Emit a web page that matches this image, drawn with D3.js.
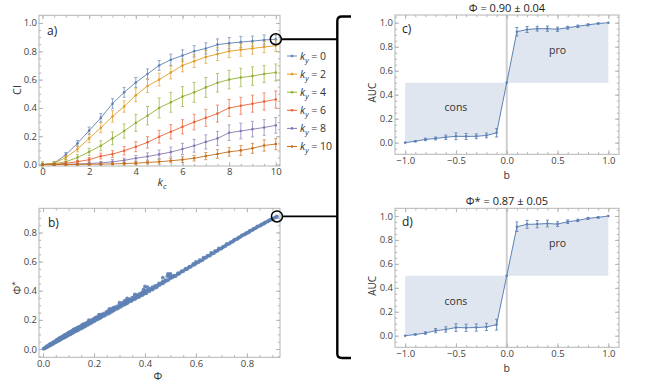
<!DOCTYPE html>
<html><head><meta charset="utf-8">
<script src="https://cdn.jsdelivr.net/npm/d3@7"></script>
<style>body{margin:0;background:#fff}svg{display:block;font-family:'Open Sans',sans-serif}</style>
</head><body><svg id="c" width="652" height="383"></svg>
<script>
// ---------- data: panel a ----------
const kc = [0,0.5,1,1.5,2,2.5,3,3.5,4,4.5,5,5.5,6,6.5,7,7.5,8,8.5,9,9.5,10];
const kyLabels = ["0","2","4","6","8","10"];
const ciKy0  = [0,0.01,0.07,0.15,0.24,0.33,0.43,0.51,0.58,0.64,0.70,0.74,0.77,0.80,0.82,0.847,0.857,0.865,0.872,0.88,0.885];
const ciKy2  = [0,0.01,0.05,0.11,0.185,0.26,0.34,0.41,0.49,0.555,0.60,0.65,0.70,0.73,0.76,0.78,0.80,0.81,0.82,0.83,0.84];
const ciKy4  = [0,0.005,0.02,0.05,0.09,0.133,0.185,0.237,0.295,0.345,0.40,0.44,0.48,0.51,0.545,0.578,0.60,0.615,0.625,0.64,0.65];
const ciKy6  = [0,0,0.01,0.02,0.035,0.06,0.074,0.098,0.126,0.157,0.197,0.232,0.267,0.30,0.33,0.36,0.40,0.415,0.43,0.445,0.46];
const ciKy8  = [0,0,0.002,0.004,0.008,0.012,0.02,0.03,0.045,0.057,0.072,0.088,0.11,0.133,0.16,0.185,0.225,0.237,0.25,0.262,0.277];
const ciKy10 = [0,0,0,0.001,0.002,0.003,0.005,0.007,0.01,0.015,0.02,0.027,0.035,0.045,0.06,0.075,0.09,0.10,0.115,0.135,0.145];
const errKy0  = [0.005,0.01,0.015,0.02,0.025,0.03,0.035,0.035,0.035,0.035,0.035,0.04,0.04,0.04,0.04,0.04,0.04,0.04,0.035,0.035,0.03];
const errKy2  = [0.005,0.01,0.015,0.02,0.03,0.035,0.04,0.04,0.045,0.045,0.045,0.045,0.045,0.045,0.045,0.045,0.045,0.045,0.04,0.04,0.04];
const errKy4  = [0.02,0.01,0.015,0.02,0.025,0.035,0.045,0.05,0.06,0.065,0.07,0.07,0.07,0.07,0.07,0.065,0.065,0.065,0.065,0.06,0.06];
const errKy6  = [0.005,0.005,0.01,0.01,0.015,0.02,0.025,0.03,0.035,0.04,0.045,0.05,0.05,0.055,0.06,0.06,0.06,0.06,0.06,0.06,0.06];
const errKy8  = [0.005,0.005,0.005,0.005,0.01,0.01,0.015,0.015,0.02,0.025,0.03,0.035,0.04,0.045,0.05,0.05,0.055,0.055,0.055,0.055,0.055];
const errKy10 = [0.005,0.005,0.005,0.005,0.005,0.005,0.005,0.01,0.01,0.01,0.015,0.015,0.02,0.02,0.025,0.03,0.03,0.035,0.035,0.04,0.04];

// ---------- data: panel b ----------
const phi = [0.002,0.005,0.008,0.010,0.012,0.015,0.018,0.020,0.022,0.025,0.028,0.030,0.033,0.035,0.038,0.040,0.043,0.045,0.048,0.050,0.053,0.055,0.058,0.060,0.063,0.065,0.068,0.070,0.073,0.075,0.078,0.080,0.083,0.085,0.088,0.090,0.093,0.095,0.098,0.100,0.105,0.108,0.110,0.115,0.118,0.120,0.125,0.128,0.130,0.135,0.138,0.140,0.145,0.150,0.152,0.155,0.160,0.163,0.168,0.170,0.175,0.180,0.185,0.188,0.192,0.195,0.200,0.205,0.210,0.215,0.220,0.222,0.228,0.232,0.235,0.240,0.245,0.250,0.255,0.260,0.262,0.268,0.272,0.275,0.280,0.285,0.290,0.295,0.300,0.305,0.310,0.315,0.318,0.322,0.328,0.330,0.335,0.340,0.345,0.350,0.355,0.360,0.365,0.370,0.375,0.380,0.385,0.390,0.395,0.400,0.400,0.405,0.410,0.418,0.425,0.430,0.438,0.445,0.450,0.458,0.465,0.470,0.478,0.485,0.490,0.492,0.500,0.508,0.515,0.520,0.528,0.535,0.542,0.550,0.558,0.565,0.572,0.580,0.588,0.595,0.602,0.610,0.618,0.625,0.632,0.640,0.648,0.655,0.662,0.670,0.678,0.685,0.692,0.700,0.708,0.715,0.722,0.730,0.738,0.745,0.752,0.760,0.768,0.775,0.782,0.790,0.798,0.805,0.812,0.820,0.828,0.835,0.842,0.850,0.858,0.865,0.872,0.880,0.888,0.895,0.902,0.910,0.918];
const phiStar = [0.002,0.004,0.008,0.011,0.010,0.016,0.016,0.020,0.024,0.023,0.028,0.031,0.030,0.036,0.035,0.043,0.041,0.048,0.045,0.052,0.050,0.060,0.055,0.063,0.060,0.070,0.064,0.068,0.072,0.078,0.074,0.082,0.079,0.088,0.083,0.094,0.088,0.092,0.100,0.096,0.110,0.101,0.106,0.118,0.111,0.116,0.130,0.121,0.125,0.128,0.140,0.133,0.139,0.150,0.143,0.148,0.158,0.153,0.160,0.172,0.166,0.171,0.185,0.178,0.183,0.200,0.190,0.196,0.210,0.204,0.228,0.211,0.218,0.225,0.236,0.228,0.234,0.248,0.242,0.262,0.249,0.256,0.266,0.262,0.268,0.280,0.276,0.282,0.296,0.290,0.300,0.318,0.303,0.308,0.320,0.314,0.322,0.333,0.328,0.336,0.346,0.342,0.350,0.365,0.356,0.364,0.372,0.370,0.378,0.430,0.385,0.382,0.396,0.398,0.410,0.408,0.420,0.424,0.436,0.440,0.452,0.450,0.462,0.470,0.515,0.474,0.486,0.492,0.503,0.500,0.514,0.518,0.530,0.534,0.546,0.548,0.560,0.565,0.576,0.580,0.590,0.596,0.606,0.610,0.622,0.628,0.640,0.642,0.654,0.658,0.670,0.675,0.686,0.690,0.702,0.706,0.718,0.722,0.734,0.738,0.750,0.754,0.766,0.770,0.782,0.786,0.797,0.800,0.812,0.816,0.826,0.830,0.842,0.845,0.856,0.860,0.870,0.874,0.884,0.888,0.897,0.902,0.910];
const phi2 = [0.03,0.04,0.05,0.055,0.06,0.07,0.075,0.08,0.09,0.095,0.1,0.105,0.11,0.115,0.12,0.125,0.13,0.135,0.14,0.145,0.15,0.155,0.16,0.165,0.17,0.175,0.18,0.19,0.2,0.205,0.21,0.22,0.225,0.23,0.24,0.25,0.26,0.27,0.275,0.28,0.29,0.3,0.31,0.32,0.325,0.33,0.34,0.35,0.36,0.37,0.38,0.39,0.395,0.4,0.41,0.42,0.43,0.44,0.455,0.47,0.48,0.488,0.495,0.5,0.51,0.53,0.545,0.56,0.575,0.59,0.6,0.615,0.63,0.645,0.66,0.675,0.69,0.705,0.72,0.735,0.75,0.765,0.78,0.795,0.81,0.825,0.84,0.855,0.87,0.885,0.9,0.915,0.395,0.41,0.36,0.3,0.22,0.12,0.18,0.26,0.33,0.47,0.5,0.065,0.085,0.015,0.025];
const phiStar2 = [0.036,0.047,0.058,0.065,0.07,0.079,0.085,0.09,0.1,0.106,0.112,0.117,0.12,0.126,0.131,0.136,0.141,0.146,0.15,0.154,0.16,0.168,0.17,0.174,0.178,0.183,0.19,0.198,0.208,0.213,0.218,0.226,0.234,0.238,0.245,0.256,0.265,0.275,0.282,0.286,0.292,0.305,0.314,0.33,0.328,0.335,0.342,0.352,0.363,0.372,0.38,0.39,0.395,0.4,0.405,0.415,0.425,0.433,0.45,0.462,0.472,0.5,0.505,0.496,0.5,0.52,0.535,0.552,0.565,0.584,0.598,0.61,0.628,0.64,0.66,0.672,0.69,0.7,0.72,0.73,0.748,0.76,0.778,0.79,0.805,0.822,0.838,0.85,0.865,0.88,0.893,0.906,0.41,0.425,0.375,0.318,0.235,0.135,0.198,0.275,0.348,0.49,0.515,0.076,0.097,0.02,0.031];

// ---------- data: panels c, d ----------
const bVals = [-1,-0.9,-0.8,-0.7,-0.6,-0.5,-0.4,-0.3,-0.2,-0.1,0,0.1,0.2,0.3,0.4,0.5,0.6,0.7,0.8,0.9,1];
const aucC = [0,0.012,0.027,0.035,0.045,0.053,0.052,0.053,0.06,0.082,0.5,0.925,0.943,0.95,0.95,0.945,0.958,0.97,0.982,0.993,1.0];
const errC = [0,0.005,0.01,0.012,0.018,0.028,0.025,0.02,0.02,0.035,0,0.035,0.025,0.02,0.022,0.018,0.012,0.01,0.008,0.005,0];
const aucD = [0,0.01,0.022,0.042,0.052,0.068,0.066,0.068,0.073,0.092,0.5,0.91,0.93,0.932,0.937,0.932,0.952,0.963,0.98,0.988,1.0];
const errD = [0,0.005,0.01,0.018,0.022,0.032,0.03,0.03,0.03,0.045,0,0.04,0.033,0.03,0.028,0.02,0.015,0.01,0.008,0.005,0];
const titleC = "Φ = 0.90 ± 0.04";
const titleD = "Φ* = 0.87 ± 0.05";

// ---------- drawing ----------
const svg = d3.select("#c");
const colors = ["#5E81B5","#E19C24","#8FB032","#EB6235","#8778B3","#C56E1A"];
const FR = "#b4b4b4";

function frame(g, x, y, xMaj, xMin, yMaj, yMin, xf, yf) {
  const [x0, x1] = x.range(), [y0, y1] = y.range();
  const add = (axis, tr) => {
    const a = g.append("g").attr("transform", tr).call(axis);
    a.select(".domain").remove();
    a.selectAll("line").attr("stroke", FR);
    a.selectAll("text").attr("fill", "#444").style("font-size", "9.5px").style("font-family","'Open Sans',sans-serif");
  };
  add(d3.axisBottom(x).tickValues(xMin).tickSize(-2.2).tickFormat(""), `translate(0,${y0})`);
  add(d3.axisBottom(x).tickValues(xMaj).tickSize(-4).tickPadding(2.5).tickFormat(xf), `translate(0,${y0})`);
  add(d3.axisTop(x).tickValues(xMin).tickSize(-2.2).tickFormat(""), `translate(0,${y1})`);
  add(d3.axisTop(x).tickValues(xMaj).tickSize(-4).tickFormat(""), `translate(0,${y1})`);
  add(d3.axisLeft(y).tickValues(yMin).tickSize(-2.2).tickFormat(""), `translate(${x0},0)`);
  add(d3.axisLeft(y).tickValues(yMaj).tickSize(-4).tickPadding(2).tickFormat(yf), `translate(${x0},0)`);
  add(d3.axisRight(y).tickValues(yMin).tickSize(-2.2).tickFormat(""), `translate(${x1},0)`);
  add(d3.axisRight(y).tickValues(yMaj).tickSize(-4).tickFormat(""), `translate(${x1},0)`);
  g.append("rect").attr("x", x0).attr("y", y1).attr("width", x1 - x0).attr("height", y0 - y1)
    .attr("fill", "none").attr("stroke", FR).attr("stroke-width", 1);
}
const rng = (a, b, s) => d3.range(Math.round((b - a) / s) + 1).map(i => +(a + i * s).toFixed(4));
const f1 = d3.format(".1f"), f0 = d3.format("d");

function errorBars(g, xs, ys, x, y, e, color, op) {
  const eb = g.append("g").attr("stroke", color).attr("stroke-width", 1).attr("opacity", op);
  xs.forEach((xv, i) => {
    if (e[i] <= 0) return;
    const px = x(xv), top = y(ys[i] + e[i]), bot = y(ys[i] - e[i]);
    eb.append("line").attr("x1", px).attr("x2", px).attr("y1", top).attr("y2", bot);
    eb.append("line").attr("x1", px - 1.5).attr("x2", px + 1.5).attr("y1", top).attr("y2", top);
    eb.append("line").attr("x1", px - 1.5).attr("x2", px + 1.5).attr("y1", bot).attr("y2", bot);
  });
}

// ----- Panel a -----
{
  const g = svg.append("g");
  const x = d3.scaleLinear().domain([-0.15, 10.18]).range([39, 280]);
  const y = d3.scaleLinear().domain([-0.01, 1.054]).range([166, 15.3]);
  frame(g, x, y, rng(0, 10, 2), rng(0, 10, 0.5), rng(0, 1, 0.2), rng(0, 1, 0.05), f0, f1);
  const series = [ciKy0, ciKy2, ciKy4, ciKy6, ciKy8, ciKy10];
  const errs = [errKy0, errKy2, errKy4, errKy6, errKy8, errKy10];
  const line = d3.line().x((d, i) => x(kc[i])).y(d => y(d));
  series.forEach((s, k) => {
    errorBars(g, kc, s, x, y, errs[k], colors[k], 0.7);
    g.append("path").attr("d", line(s)).attr("fill", "none").attr("stroke", colors[k]).attr("stroke-width", 1).attr("opacity", 0.9);
    g.append("g").selectAll("circle").data(s).join("circle")
      .attr("cx", (d, i) => x(kc[i])).attr("cy", d => y(d)).attr("r", 1.3).attr("fill", colors[k]);
  });
  g.append("text").attr("x", 47).attr("y", 35).text("a)").style("font-size", "12px").attr("fill", "#222");
  const xl = g.append("text").attr("x", 162).attr("y", 186).attr("text-anchor", "middle").style("font-size", "11px").attr("fill", "#333");
  xl.append("tspan").text("k").style("font-style", "italic");
  xl.append("tspan").text("c").style("font-style", "italic").style("font-size", "8px").attr("dy", 3);
  g.append("text").attr("transform", "translate(21,90) rotate(-90)").attr("text-anchor", "middle")
    .text("CI").style("font-size", "11px").attr("fill", "#333");
  kyLabels.forEach((lab, k) => {
    const ly = 56 + k * 18.1;
    g.append("line").attr("x1", 287).attr("x2", 297).attr("y1", ly).attr("y2", ly).attr("stroke", colors[k]).attr("stroke-width", 1);
    g.append("circle").attr("cx", 292).attr("cy", ly).attr("r", 1.3).attr("fill", colors[k]);
    const t = g.append("text").attr("x", 300).attr("y", ly + 3.8).style("font-size", "10.5px").attr("fill", "#333");
    t.append("tspan").text("k").style("font-style", "italic");
    t.append("tspan").text("y").style("font-style", "italic").style("font-size", "7.5px").attr("dy", 3);
    t.append("tspan").text(" = " + lab).attr("dy", -3);
  });
  const cx = x(kc[20]), cy = y(ciKy0[20]);
  g.append("circle").attr("cx", cx).attr("cy", cy).attr("r", 5.5).attr("fill", "none").attr("stroke", "#000").attr("stroke-width", 1.5);
  g.append("line").attr("x1", cx + 5.5).attr("x2", 337).attr("y1", cy).attr("y2", cy).attr("stroke", "#000").attr("stroke-width", 1.8);
}

// ----- Panel b -----
{
  const g = svg.append("g");
  const x = d3.scaleLinear().domain([-0.016, 0.93]).range([39, 280]);
  const y = d3.scaleLinear().domain([-0.057, 0.966]).range([357.3, 208.3]);
  frame(g, x, y, rng(0, 0.8, 0.2), rng(0, 0.9, 0.05), rng(0, 0.8, 0.2), rng(-0.05, 0.95, 0.05), f1, f1);
  const allPhi = phi.concat(phi2), allStar = phiStar.concat(phiStar2);
  g.append("g").selectAll("circle").data(allPhi).join("circle")
    .attr("cx", d => x(d)).attr("cy", (d, i) => y(allStar[i])).attr("r", 1.9).attr("fill", "#5E81B5").attr("opacity", 0.9);
  g.append("text").attr("x", 48).attr("y", 227).text("b)").style("font-size", "12px").attr("fill", "#222");
  g.append("text").attr("x", 158).attr("y", 380).attr("text-anchor", "middle").text("Φ").style("font-size", "11px").attr("fill", "#333");
  const yl = g.append("text").attr("transform", "translate(21,288) rotate(-90)").attr("text-anchor", "middle").style("font-size", "11px").attr("fill", "#333");
  yl.append("tspan").text("Φ");
  yl.append("tspan").text("*").style("font-size", "8px").attr("dy", -4);
  const cx = x(phi[phi.length - 1]), cy = y(phiStar[phiStar.length - 1]);
  g.append("circle").attr("cx", cx).attr("cy", cy).attr("r", 5.5).attr("fill", "none").attr("stroke", "#000").attr("stroke-width", 1.5);
  g.append("line").attr("x1", cx + 5.5).attr("x2", 337).attr("y1", cy).attr("y2", cy).attr("stroke", "#000").attr("stroke-width", 1.8);
}

// ----- bracket -----
svg.append("path").attr("d", "M351,16.5 L342,16.5 Q337.3,16.5 337.3,21 L337.3,354 Q337.3,358 342,358 L351,358")
  .attr("fill", "none").attr("stroke", "#000").attr("stroke-width", 2.4);

// ----- Panels c, d -----
function aucPanel(top, bottom, auc, err, title, label) {
  const g = svg.append("g");
  const x = d3.scaleLinear().domain([-1.1, 1.105]).range([395, 619]);
  const y = d3.scaleLinear().domain([-0.097, 1.064]).range([bottom, top]);
  const area = d3.area().x((d, i) => x(bVals[i])).y0(y(0.5)).y1(d => y(d));
  g.append("path").attr("d", area(auc)).attr("fill", "#DFE6F0");
  g.append("line").attr("x1", x(0)).attr("x2", x(0)).attr("y1", top).attr("y2", bottom).attr("stroke", "#cfcfcf").attr("stroke-width", 2);
  frame(g, x, y, rng(-1, 1, 0.5), rng(-1, 1, 0.1), rng(0, 1, 0.2), rng(-0.05, 1.05, 0.05), f1, f1);
  errorBars(g, bVals, auc, x, y, err, "#5E81B5", 0.9);
  g.append("path").attr("d", d3.line().x((d, i) => x(bVals[i])).y(d => y(d))(auc)).attr("fill", "none").attr("stroke", "#5E81B5").attr("stroke-width", 1);
  g.append("g").selectAll("circle").data(auc).join("circle")
    .attr("cx", (d, i) => x(bVals[i])).attr("cy", d => y(d)).attr("r", 1.3).attr("fill", "#5E81B5");
  g.append("text").attr("x", 402).attr("y", top + 18).text(label).style("font-size", "12px").attr("fill", "#222");
  g.append("text").attr("x", 507).attr("y", top - 3).attr("text-anchor", "middle").text(title).style("font-size", "11px").attr("fill", "#222");
  g.append("text").attr("x", x(-0.5)).attr("y", y(0.26)).attr("text-anchor", "middle").text("cons").style("font-size", "10.5px").attr("fill", "#333");
  g.append("text").attr("x", x(0.5)).attr("y", y(0.74)).attr("text-anchor", "middle").text("pro").style("font-size", "10.5px").attr("fill", "#333");
  g.append("text").attr("x", x(0)).attr("y", bottom + 25).attr("text-anchor", "middle").text("b").style("font-size", "10.5px").attr("fill", "#333");
  g.append("text").attr("transform", `translate(376,${(top + bottom) / 2 + 8}) rotate(-90)`).attr("text-anchor", "middle").text("AUC").style("font-size", "10px").attr("fill", "#333");
}
aucPanel(15, 154.3, aucC, errC, titleC, "c)");
aucPanel(208.3, 347.3, aucD, errD, titleD, "d)");
</script>
</body></html>
